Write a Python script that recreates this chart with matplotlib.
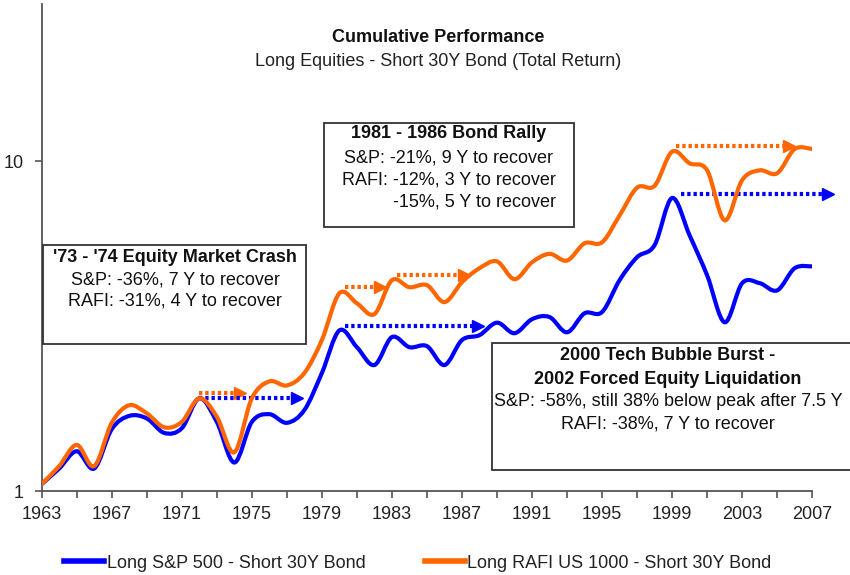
import numpy as np
import matplotlib
matplotlib.use('Agg')
import matplotlib.pyplot as plt
from matplotlib.path import Path
from matplotlib.patches import PathPatch, Rectangle
from matplotlib.lines import Line2D

plt.rcParams['font.family'] = ['Liberation Sans', 'DejaVu Sans']

# ~~~~~~~~~~~~~~~~~~~~~~~~~~~~~~~~~~~~~~~~~~~~ Data ~~~~~~~~~~~~~~~~~~~~~~~~~~~~~~~~~~~~~~~~~~~~
years = list(range(1963, 2008))
sp500 = [1.05, 1.17, 1.32, 1.17, 1.54, 1.69, 1.66, 1.50, 1.55, 1.91,
         1.62, 1.22, 1.62, 1.71, 1.61, 1.76, 2.28, 3.07, 2.73, 2.41,
         2.93, 2.73, 2.75, 2.41, 2.87, 2.97, 3.24, 3.01, 3.32, 3.37,
         3.03, 3.46, 3.49, 4.36, 5.12, 5.57, 7.74, 5.96, 4.51, 3.25,
         4.27, 4.27, 4.06, 4.74, 4.80]
rafi = [1.05, 1.19, 1.38, 1.19, 1.61, 1.82, 1.72, 1.56, 1.62, 1.91,
        1.68, 1.31, 1.91, 2.15, 2.09, 2.28, 2.87, 3.98, 3.71, 3.44,
        4.36, 4.15, 4.21, 3.74, 4.30, 4.74, 4.97, 4.39, 4.94, 5.24,
        5.00, 5.64, 5.68, 6.85, 8.32, 8.43, 10.7, 9.86, 9.39, 6.62,
        8.77, 9.39, 9.20, 10.9, 10.9]

# recovery arrows: (start year, end year, level)
rafi_arrows = [(1972.0, 1974.3, 1.98), (1980.3, 1982.3, 4.17), (1983.3, 1987.1, 4.51), (1999.2, 2005.7, 11.1)]
sp_arrows = [(1972.0, 1977.6, 1.91), (1980.3, 1987.9, 3.16), (1999.5, 2007.9, 7.94)]

BLUE = '#0000FF'
ORANGE = '#FF6600'
W, H = 850, 575


def fx(x):  # pixel -> figure fraction
    return x / W


def fy(y):
    return 1 - y / H


def smooth_path(xs, ys):
    # Excel-style smoothed line: Catmull-Rom Bezier in log space
    lx = np.array(xs, dtype=float)
    ly = np.log10(np.array(ys, dtype=float))
    pts = np.column_stack([lx, ly])
    verts = [pts[0]]
    codes = [Path.MOVETO]
    n = len(pts)
    for i in range(n - 1):
        p0 = pts[max(i - 1, 0)]
        p1 = pts[i]
        p2 = pts[i + 1]
        p3 = pts[min(i + 2, n - 1)]
        c1 = p1 + (p2 - p0) / 6
        c2 = p2 - (p3 - p1) / 6
        verts += [c1, c2, p2]
        codes += [Path.CURVE4] * 3
    verts = np.array(verts)
    verts[:, 1] = 10 ** verts[:, 1]
    return Path(verts, codes)


fig = plt.figure(figsize=(8.5, 5.75), dpi=100)
ax = fig.add_axes([fx(41.7), fy(491), fx(812.2) - fx(41.7), fy(4) - fy(491)])
ax.set_yscale('log')
ax.set_xlim(1963, 2007)
ax.set_ylim(1, 30)

# dotted recovery arrows
for x0, x1, lvl in rafi_arrows:
    ax.plot([x0, x1], [lvl, lvl], color=ORANGE, lw=3, linestyle=(0, (0.8, 0.7)), clip_on=False, zorder=2)
    ax.plot([x1], [lvl], marker='>', color=ORANGE, markersize=9, clip_on=False, zorder=2)
for x0, x1, lvl in sp_arrows:
    ax.plot([x0, x1], [lvl, lvl], color=BLUE, lw=3, linestyle=(0, (0.8, 0.7)), clip_on=False, zorder=2)
    ax.plot([x1], [lvl], marker='>', color=BLUE, markersize=9, clip_on=False, zorder=2)

# the two smoothed series
ax.add_patch(PathPatch(smooth_path(years, sp500), facecolor='none', edgecolor=BLUE, lw=3,
                       capstyle='round', joinstyle='round', zorder=3))
ax.add_patch(PathPatch(smooth_path(years, rafi), facecolor='none', edgecolor=ORANGE, lw=3,
                       capstyle='round', joinstyle='round', zorder=3))

# axes styling
for s in ['top', 'right']:
    ax.spines[s].set_visible(False)
for s in ['left', 'bottom']:
    ax.spines[s].set_color('#555555')
    ax.spines[s].set_linewidth(1.3)
ax.set_yticks([1, 10])
ax.set_yticklabels(['1', '10'])
ax.yaxis.set_minor_locator(matplotlib.ticker.NullLocator())
ax.set_xticks(range(1963, 2008, 4))
ax.set_xticks(range(1963, 2008, 2), minor=True)
ax.tick_params(axis='both', which='both', direction='out', length=5, width=1.2, color='#555555',
               labelsize=13, labelcolor='#222222')
ax.tick_params(axis='x', which='major', pad=6)
ax.tick_params(axis='y', which='major', pad=8)

# titles
fig.text(fx(438), fy(38), 'Cumulative Performance', ha='center', va='center', fontsize=13, fontweight='bold',
         color='#111111')
fig.text(fx(438), fy(62), 'Long Equities - Short 30Y Bond (Total Return)', ha='center', va='center',
         fontsize=13, color='#222222')

# annotation boxes
boxes = [(43, 245, 306, 344), (324, 123, 574, 227), (492, 343, 880, 470)]
for x0, y0, x1, y1 in boxes:
    fig.add_artist(Rectangle((fx(x0), fy(y1)), fx(x1) - fx(x0), fy(y0) - fy(y1), transform=fig.transFigure,
                             facecolor='white', edgecolor='#333333', lw=1.3, zorder=5))

notes = [
    (175, 258, "'73 - '74 Equity Market Crash", 'bold', 'center'),
    (175, 280, 'S&P: -36%, 7 Y to recover', 'normal', 'center'),
    (175, 301, 'RAFI: -31%, 4 Y to recover', 'normal', 'center'),
    (449, 134, '1981 - 1986 Bond Rally', 'bold', 'center'),
    (449, 158, 'S&P: -21%, 9 Y to recover', 'normal', 'center'),
    (449, 180, 'RAFI: -12%, 3 Y to recover', 'normal', 'center'),
    (556, 202, '-15%, 5 Y to recover', 'normal', 'right'),
    (668, 356, '2000 Tech Bubble Burst -', 'bold', 'center'),
    (668, 379, '2002 Forced Equity Liquidation', 'bold', 'center'),
    (668, 402, 'S&P: -58%, still 38% below peak after 7.5 Y', 'normal', 'center'),
    (668, 424, 'RAFI: -38%, 7 Y to recover', 'normal', 'center'),
]
for x, y, s, wt, ha in notes:
    fig.text(fx(x), fy(y), s, ha=ha, va='center', fontsize=13, fontweight=wt, color='#111111', zorder=6)

# legend
handles = [Line2D([], [], color=BLUE, lw=4), Line2D([], [], color=ORANGE, lw=4)]
fig.legend(handles, ['Long S&P 500 - Short 30Y Bond', 'Long RAFI US 1000 - Short 30Y Bond'],
           loc='center', bbox_to_anchor=(fx(418), fy(563)), ncol=2, frameon=False, fontsize=13,
           handlelength=2.2, handletextpad=0.15, columnspacing=3.3, labelcolor='#222222')

fig.savefig('out.png', dpi=100)
